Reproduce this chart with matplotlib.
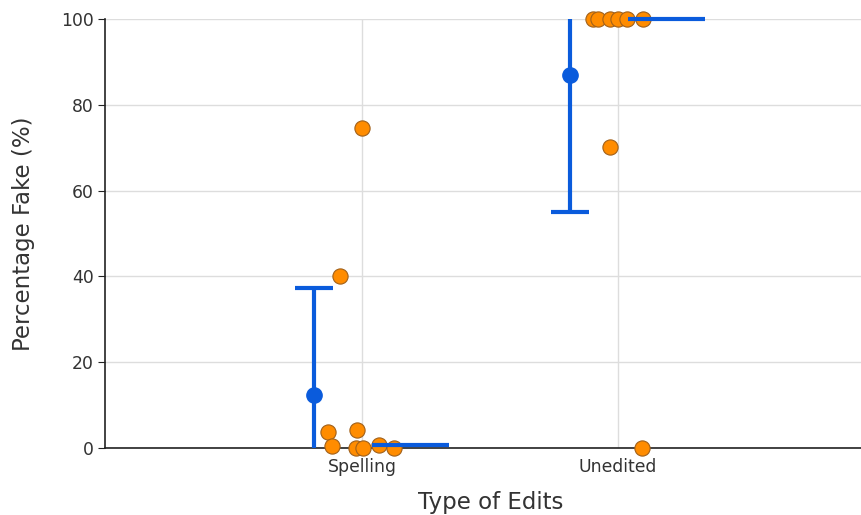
import matplotlib
matplotlib.use("Agg")
import matplotlib.pyplot as plt
import numpy as np

categories = ["Spelling", "Unedited"]

# individual observations per category (jitter offset, percentage fake)
spelling_offsets = [-0.086, 0.0, -0.133, -0.117, -0.020, -0.023, 0.004, 0.066, 0.125]
spelling_values = [40.2, 74.6, 3.7, 0.5, 4.2, 0.1, 0.0, 0.7, 0.0]
unedited_offsets = [-0.098, -0.078, -0.031, 0.0, 0.035, 0.098, -0.031, 0.094]
unedited_values = [100, 100, 100, 100, 100, 100, 70.2, 0.0]

# summary statistics: mean and interval bounds
means = [12.35, 86.9]
lower = [0.0, 55.0]
upper = [37.4, 100.0]
mean_offset = -0.1875

blue = "#0a5bdc"
orange = "#ff8c00"
edge = "#a0601a"

fig = plt.figure(figsize=(8.61, 5.15), dpi=100)
# the plotting area runs slightly past the right edge of the canvas
ax = fig.add_axes([105 / 861, 67 / 515, 772 / 861, 429 / 515])

for i, (offs, vals) in enumerate([(spelling_offsets, spelling_values),
                                  (unedited_offsets, unedited_values)]):
    ax.scatter(np.array(offs) + i, vals, s=120, color=orange, edgecolor=edge,
               linewidth=0.8, zorder=3, clip_on=False)

cap = 0.073
for i in range(len(categories)):
    x = i + mean_offset
    ax.plot([x, x], [lower[i], upper[i]], color=blue, lw=3, zorder=4,
            solid_capstyle="butt")
    ax.plot(x, means[i], "o", color=blue, ms=11, zorder=5, clip_on=False)
# caps: the inner cap sits on the interval line, the outer one beside the points
ax.plot([0 + mean_offset - cap, 0 + mean_offset + cap], [upper[0]] * 2,
        color=blue, lw=3, zorder=4, solid_capstyle="butt")
ax.plot([0.04, 0.34], [0.7, 0.7], color=blue, lw=3, zorder=4,
        solid_capstyle="butt")
ax.plot([1 + mean_offset - cap, 1 + mean_offset + cap], [lower[1]] * 2,
        color=blue, lw=3, zorder=4, solid_capstyle="butt")
ax.plot([1.04, 1.34], [upper[1]] * 2, color=blue, lw=3, zorder=4,
        solid_capstyle="butt", clip_on=False)

ax.set_xlim(-1.004, 2.012)
ax.set_ylim(0, 100)
ax.set_xticks(range(len(categories)))
ax.set_xticklabels(categories)
ax.set_yticks([0, 20, 40, 60, 80, 100])

ax.grid(True, color="#dddddd", lw=1)
ax.set_axisbelow(True)
for s in ["top", "right"]:
    ax.spines[s].set_visible(False)
for s in ["left", "bottom"]:
    ax.spines[s].set_color("#222222")
    ax.spines[s].set_linewidth(1.2)

ax.tick_params(axis="x", length=0, labelsize=12.4, colors="#333333", pad=7)
ax.tick_params(axis="y", length=5, labelsize=12.4, colors="#333333", pad=3)
ax.tick_params(axis="y", color="#222222")

ax.set_xlabel("Type of Edits", fontsize=16.5, color="#333333", labelpad=11)
ax.set_ylabel("Percentage Fake (%)", fontsize=16.5, color="#333333", labelpad=19)

fig.savefig("out.png", dpi=100)
